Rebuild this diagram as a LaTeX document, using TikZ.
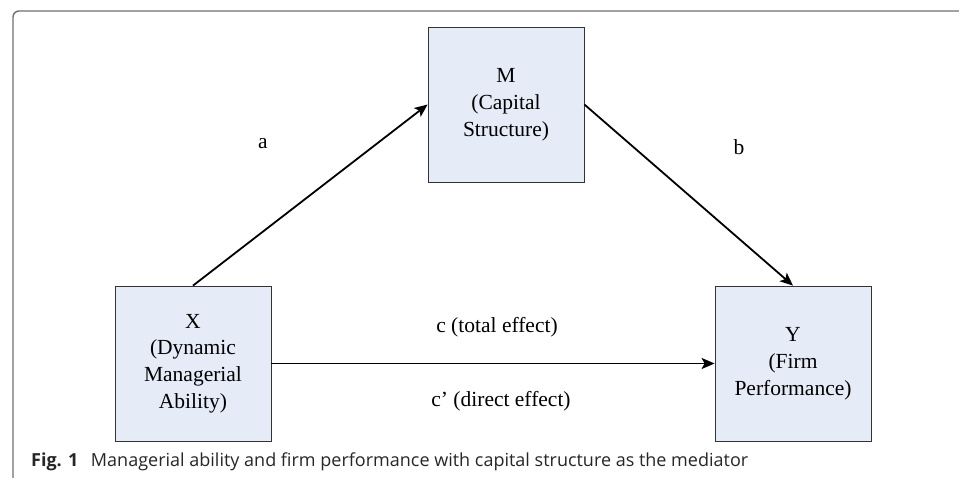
\documentclass[tikz,border=0pt]{standalone}
\usepackage{fontspec}
\setmainfont{Liberation Serif}
\newfontfamily\capfont{Open Sans}
\usetikzlibrary{arrows.meta}
\definecolor{boxfill}{HTML}{E6ECF7}
\definecolor{framegray}{HTML}{707070}
\tikzset{
  varbox/.style={draw=black!80, line width=0.8pt, fill=boxfill, minimum width=156pt, minimum height=155pt, inner sep=0pt, align=center, font=\fontsize{21.5}{26.8}\selectfont},
  pathlbl/.style={font=\fontsize{21.5}{26.8}\selectfont, inner sep=0pt},
  effarrow/.style={line width=1.8pt, -{Stealth[length=13pt,width=11pt,inset=3pt]}}
}
\begin{document}
\begin{tikzpicture}[x=1pt,y=-1pt]
\useasboundingbox (0,0) rectangle (959,478);
\draw[framegray, line width=1.4pt, rounded corners=6pt] (13,490) -- (13,11) -- (975,11);
\node[varbox] (M) at (506,104.5) {M\\(Capital\\Structure)};
\node[varbox] (X) at (193,363.5) {X\\(Dynamic\\Managerial\\Ability)};
\node[varbox] (Y) at (793,363.5) {Y\\(Firm\\Performance)};
\draw[effarrow] (X.north) -- (M.west);
\draw[effarrow] (M.east) -- (Y.north);
\draw[effarrow] (X.east) -- (Y.west);
\node[pathlbl] (la) at (263,144) {a};
\node[pathlbl] (lb) at (739,147) {b};
\node[pathlbl] (lc) at (497,327) {c (total effect)};
\node[pathlbl] (ld) at (501,401) {c’ (direct effect)};
\node[anchor=west, inner sep=0pt, font=\capfont\fontsize{18}{20}\selectfont, text=black!85] (cap) at (31,462) {\textbf{Fig. 1}\hspace{0.7em}Managerial ability and firm performance with capital structure as the mediator};
\end{tikzpicture}
\end{document}
